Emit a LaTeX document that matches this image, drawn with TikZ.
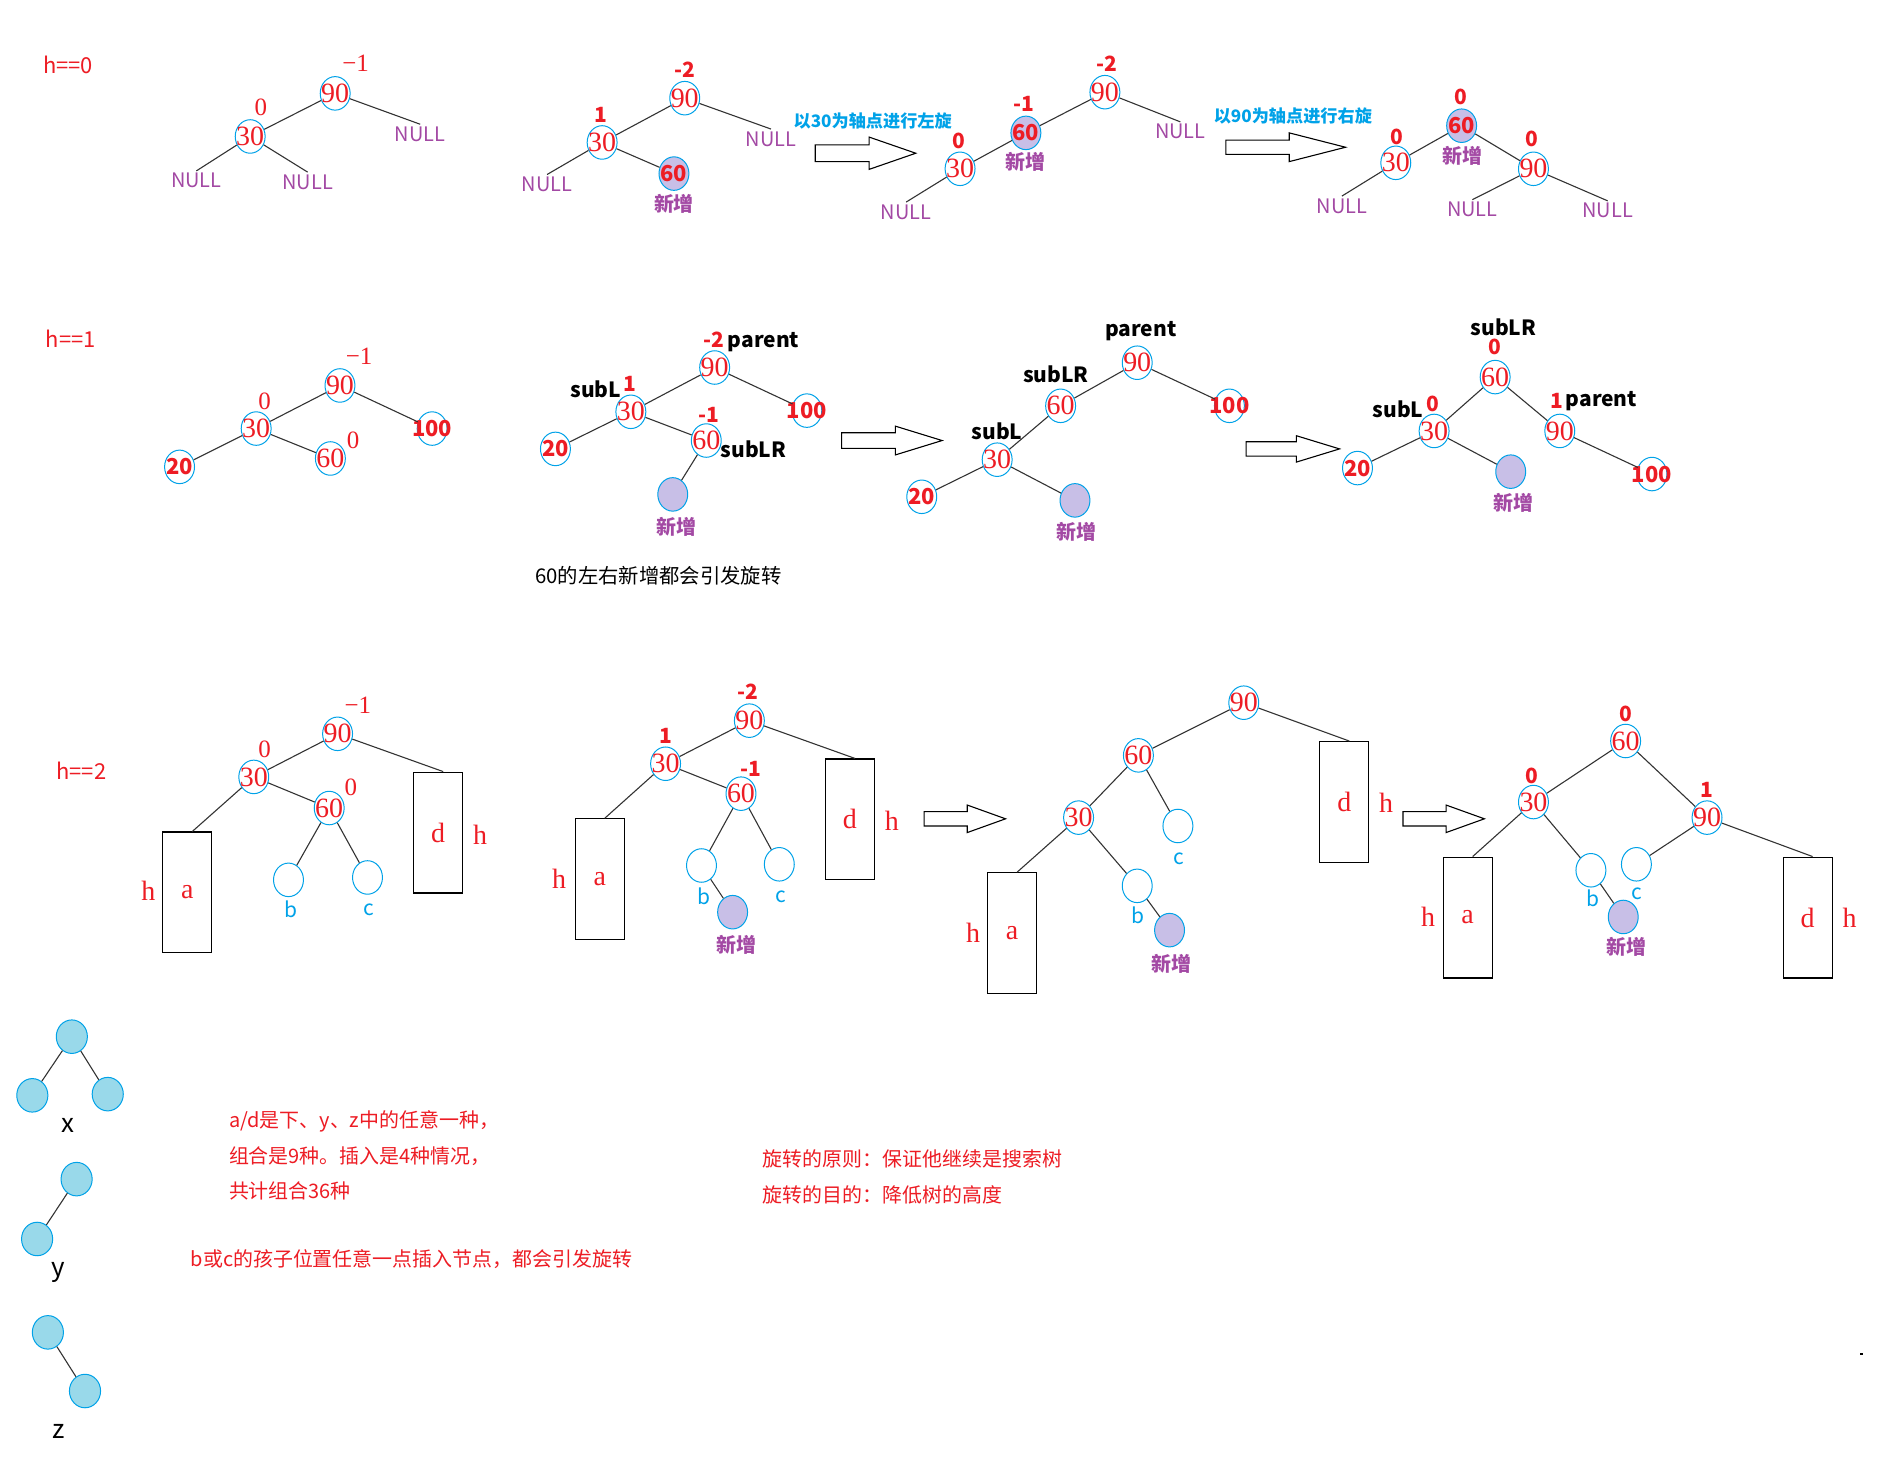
\documentclass[tikz,border=0pt]{standalone}
\usepackage{fontspec}
\setmainfont{Liberation Serif}
\newfontfamily\cjk{Noto Sans CJK SC}
\usetikzlibrary{shapes.geometric,calc}
\definecolor{PaintRed}{HTML}{ED1C24}
\definecolor{PaintCyan}{HTML}{00A2E8}
\definecolor{PaintPurple}{HTML}{A349A4}
\definecolor{PaintLilac}{HTML}{C8BFE7}
\definecolor{PaintSky}{HTML}{99D9EA}
\tikzset{
  tnode/.style={ellipse,draw=PaintCyan,line width=0.5pt,minimum width=15pt,minimum height=16.8pt,
    inner sep=0pt,text=PaintRed,font=\fontsize{14}{14}\selectfont,
    execute at begin node={\hbox to 0pt\bgroup\hss},execute at end node={\hss\egroup}},
  bnode/.style={tnode,font=\cjk\bfseries\fontsize{11}{11}\selectfont},
  newnode/.style={bnode,fill=PaintLilac},
  nulllab/.style={text=PaintPurple,font=\cjk\fontsize{10}{11}\selectfont,inner sep=1pt},
  newlab/.style={text=PaintPurple,font=\cjk\bfseries\fontsize{10}{11}\selectfont,inner sep=1pt},
  bal/.style={text=PaintRed,font=\cjk\bfseries\fontsize{10.5}{11}\selectfont,inner sep=1pt},
  balserif/.style={text=PaintRed,font=\fontsize{12.5}{13}\selectfont,inner sep=1pt},
  ptr/.style={font=\cjk\bfseries\fontsize{10.5}{11}\selectfont,inner sep=1pt},
  subtree/.style={draw,line width=0.55pt,minimum width=24.6pt,minimum height=60.6pt,
    text=PaintRed,font=\fontsize{14}{14}\selectfont},
  hlab/.style={text=PaintRed,font=\fontsize{14}{14}\selectfont,inner sep=1pt},
  bclab/.style={text=PaintCyan,font=\cjk\fontsize{10.5}{11}\selectfont,inner sep=1pt},
  rowlab/.style={text=PaintRed,font=\cjk\fontsize{11}{11}\selectfont},
  turnlab/.style={text=PaintCyan,font=\cjk\bfseries\fontsize{8.6}{10}\selectfont},
  legnode/.style={ellipse,draw=PaintCyan,fill=PaintSky,line width=0.5pt,minimum width=15.6pt,minimum height=16.8pt},
  leglab/.style={font=\cjk\fontsize{13}{13}\selectfont},
  note/.style={text=PaintRed,font=\cjk\fontsize{10}{12}\selectfont,anchor=west,inner sep=0pt},
  edge/.style={line width=0.55pt,black!80},
  blockarr/.style={draw,line width=0.55pt,fill=white}
}
\begin{document}
\begin{tikzpicture}[x=0.6pt,y=-0.6pt]
\useasboundingbox[fill=white] (0,0) rectangle (1568,1222);

% h==0
\node[rowlab] (h0) at (57,54) {h==0};
\node[tnode] (t1n90) at (280,78) {90};
\node[balserif] (t1f90) at (297,53) {−1};
\node[tnode] (t1n30) at (209,114) {30};
\node[balserif] (t1f30) at (218,90) {0};
\node[nulllab] (t1nr) at (351,112) {NULL};
\node[nulllab] (t1nl) at (164,151) {NULL};
\node[nulllab] (t1nm) at (257,152) {NULL};
\draw[edge] (t1n90) -- (t1n30);
\draw[edge] (t1n90) -- (t1nr.north);
\draw[edge] (t1n30) -- (t1nl.north);
\draw[edge] (t1n30) -- (t1nm.north);

\node[tnode] (t2n90) at (572,82) {90};
\node[bal] (t2f90) at (572,58) {-2};
\node[tnode] (t2n30) at (503,119) {30};
\node[bal] (t2f30) at (502,96) {1};
\node[nulllab] (t2nr) at (644,116) {NULL};
\node[nulllab] (t2nl) at (457,154) {NULL};
\node[newnode] (t2n60) at (563,145) {60};
\node[newlab] (t2new) at (563,170) {新增};
\draw[edge] (t2n90) -- (t2n30);
\draw[edge] (t2n90) -- (t2nr.north);
\draw[edge] (t2n30) -- (t2nl.north);
\draw[edge] (t2n30) -- (t2n60);

\node[turnlab] (turn1) at (729,101) {以30为轴点进行左旋};

\node[tnode] (t3n90) at (923,77) {90};
\node[bal] (t3f90) at (925,53) {-2};
\node[newnode] (t3n60) at (857,111) {60};
\node[bal] (t3f60) at (855,87) {-1};
\node[newlab] (t3new) at (857,135) {新增};
\node[tnode] (t3n30) at (802,141) {30};
\node[bal] (t3f30) at (801,118) {0};
\node[nulllab] (t3nl) at (757,177) {NULL};
\node[nulllab] (t3nr) at (986,110) {NULL};
\draw[edge] (t3n90) -- (t3n60);
\draw[edge] (t3n90) -- (t3nr.north);
\draw[edge] (t3n60) -- (t3n30);
\draw[edge] (t3n30) -- (t3nl.north);

\node[turnlab] (turn2) at (1080,97) {以90为轴点进行右旋};

\node[newnode] (t4n60) at (1221,105) {60};
\node[bal] (t4f60) at (1220,81) {0};
\node[newlab] (t4new) at (1222,130) {新增};
\node[tnode] (t4n30) at (1166,136) {30};
\node[bal] (t4f30) at (1167,114) {0};
\node[tnode] (t4n90) at (1281,141) {90};
\node[bal] (t4f90) at (1280,116) {0};
\node[nulllab] (t4na) at (1121,172) {NULL};
\node[nulllab] (t4nb) at (1230,175) {NULL};
\node[nulllab] (t4nc) at (1343,176) {NULL};
\draw[edge] (t4n60) -- (t4n30);
\draw[edge] (t4n60) -- (t4n90);
\draw[edge] (t4n30) -- (t4na.north);
\draw[edge] (t4n90) -- (t4nb.north);
\draw[edge] (t4n90) -- (t4nc.north);

% h==1
\node[rowlab] (h1) at (59,283) {h==1};
\node[tnode] (t5n90) at (284,322) {90};
\node[balserif] (t5f90) at (300,298) {−1};
\node[tnode] (t5n30) at (214,358) {30};
\node[balserif] (t5f30) at (221,335) {0};
\node[bnode] (t5n100) at (361,358) {100};
\node[bnode] (t5n20) at (150,390) {20};
\node[tnode] (t5n60) at (276,383) {60};
\node[balserif] (t5f60) at (295,368) {0};
\draw[edge] (t5n90) -- (t5n30);
\draw[edge] (t5n90) -- (t5n100);
\draw[edge] (t5n30) -- (t5n20);
\draw[edge] (t5n30) -- (t5n60);

\node[tnode] (t6n90) at (597,307) {90};
\node[bal,anchor=east] (t6f90) at (607,284) {-2};
\node[ptr,anchor=west] (t6parent) at (606,286) {parent};
\node[tnode] (t6n30) at (527,344) {30};
\node[ptr,anchor=east] (t6subl) at (521,325) {subL};
\node[bal,anchor=west] (t6f30) at (519,321) {1};
\node[bnode] (t6n100) at (674,343) {100};
\node[bnode] (t6n20) at (464,375) {20};
\node[tnode] (t6n60) at (590,368) {60};
\node[bal] (t6f60) at (592,347) {-1};
\node[ptr,anchor=west] (t6sublr) at (600,375) {subLR};
\node[newnode] (t6new) at (562,413) {};
\node[newlab] (t6newlab) at (565,440) {新增};
\draw[edge] (t6n90) -- (t6n30);
\draw[edge] (t6n90) -- (t6n100);
\draw[edge] (t6n30) -- (t6n20);
\draw[edge] (t6n30) -- (t6n60);
\draw[edge] (t6n60) -- (t6new);
\node[font=\cjk\fontsize{10.2}{12}\selectfont] (t6note) at (550,481) {60的左右新增都会引发旋转};

\node[ptr] (t7parent) at (953,277) {parent};
\node[tnode] (t7n90) at (950,303) {90};
\node[ptr] (t7sublr) at (882,313) {subLR};
\node[tnode] (t7n60) at (886,339) {60};
\node[bnode] (t7n100) at (1027,339) {100};
\node[ptr] (t7subl) at (833,360) {subL};
\node[tnode] (t7n30) at (833,384) {30};
\node[bnode] (t7n20) at (770,415) {20};
\node[newnode] (t7new) at (898,418) {};
\node[newlab] (t7newlab) at (899,444) {新增};
\draw[edge] (t7n90) -- (t7n60);
\draw[edge] (t7n90) -- (t7n100);
\draw[edge] (t7n60) -- (t7n30);
\draw[edge] (t7n30) -- (t7n20);
\draw[edge] (t7n30) -- (t7new);

\node[ptr] (t8sublr) at (1256,273) {subLR};
\node[bal] (t8f60) at (1249,290) {0};
\node[tnode] (t8n60) at (1249,315) {60};
\node[ptr,anchor=east] (t8subl) at (1191,342) {subL};
\node[bal,anchor=west] (t8f30) at (1190,337) {0};
\node[tnode] (t8n30) at (1198,360) {30};
\node[bal,anchor=east] (t8f90) at (1308,335) {1};
\node[ptr,anchor=west] (t8parent) at (1306,335) {parent};
\node[tnode] (t8n90) at (1303,360) {90};
\node[bnode] (t8n20) at (1134,391) {20};
\node[newnode] (t8new) at (1262,394) {};
\node[newlab] (t8newlab) at (1264,420) {新增};
\node[bnode] (t8n100) at (1380,396) {100};
\draw[edge] (t8n60) -- (t8n30);
\draw[edge] (t8n60) -- (t8n90);
\draw[edge] (t8n30) -- (t8n20);
\draw[edge] (t8n30) -- (t8new);
\draw[edge] (t8n90) -- (t8n100);

% h==2
\node[rowlab] (h2) at (68,644) {h==2};
\node[tnode] (t9n90) at (282,613) {90};
\node[balserif] (t9f90) at (299,589) {−1};
\node[tnode] (t9n30) at (212,649) {30};
\node[balserif] (t9f30) at (221,626) {0};
\node[tnode] (t9n60) at (275,675) {60};
\node[balserif] (t9f60) at (293,658) {0};
\node[subtree] (t9a) at (156.5,745.5) {a};
\node[hlab] (t9ha) at (124,744) {h};
\node[subtree] (t9d) at (366,695.5) {d};
\node[hlab] (t9hd) at (401,697) {h};
\node[tnode] (t9b) at (241,735) {};
\node[tnode] (t9c) at (307,733) {};
\node[bclab] (t9bl) at (243,760) {b};
\node[bclab] (t9cl) at (308,760) {c};
\draw[edge] (t9n90) -- (t9n30);
\draw[edge] (t9n90) -- ($(t9d.north west)!0.6!(t9d.north east)$);
\draw[edge] (t9n30) -- ($(t9a.north west)!0.6!(t9a.north east)$);
\draw[edge] (t9n30) -- (t9n60);
\draw[edge] (t9n60) -- (t9b);
\draw[edge] (t9n60) -- (t9c);

\node[tnode] (t10n90) at (626,602) {90};
\node[bal] (t10f90) at (625,578) {-2};
\node[tnode] (t10n30) at (556,638) {30};
\node[bal] (t10f30) at (556,615) {1};
\node[tnode] (t10n60) at (619,663) {60};
\node[bal] (t10f60) at (627,642) {-1};
\node[subtree] (t10a) at (501,734.5) {a};
\node[hlab] (t10ha) at (467,734) {h};
\node[subtree] (t10d) at (710,684.5) {d};
\node[hlab] (t10hd) at (745,686) {h};
\node[tnode] (t10b) at (586,723) {};
\node[tnode] (t10c) at (651,722) {};
\node[bclab] (t10bl) at (588,749) {b};
\node[bclab] (t10cl) at (652,749) {c};
\node[newnode] (t10new) at (612,762) {};
\node[newlab] (t10newlab) at (615,789) {新增};
\draw[edge] (t10n90) -- (t10n30);
\draw[edge] (t10n90) -- ($(t10d.north west)!0.6!(t10d.north east)$);
\draw[edge] (t10n30) -- ($(t10a.north west)!0.6!(t10a.north east)$);
\draw[edge] (t10n30) -- (t10n60);
\draw[edge] (t10n60) -- (t10b);
\draw[edge] (t10n60) -- (t10c);
\draw[edge] (t10b) -- (t10new);

\node[tnode] (t11n90) at (1039,587) {90};
\node[tnode] (t11n60) at (951,631) {60};
\node[tnode] (t11n30) at (901,683) {30};
\node[tnode] (t11c) at (984,690) {};
\node[bclab] (t11cl) at (985,717) {c};
\node[tnode] (t11b) at (950,740) {};
\node[bclab] (t11bl) at (951,765) {b};
\node[newnode] (t11new) at (977,777) {};
\node[newlab] (t11newlab) at (979,805) {新增};
\node[subtree] (t11a) at (845.5,779.5) {a};
\node[hlab] (t11ha) at (813,779) {h};
\node[subtree] (t11d) at (1123,670) {d};
\node[hlab] (t11hd) at (1158,671) {h};
\draw[edge] (t11n90) -- (t11n60);
\draw[edge] (t11n90) -- ($(t11d.north west)!0.6!(t11d.north east)$);
\draw[edge] (t11n60) -- (t11n30);
\draw[edge] (t11n60) -- (t11c);
\draw[edge] (t11n30) -- ($(t11a.north west)!0.6!(t11a.north east)$);
\draw[edge] (t11n30) -- (t11b);
\draw[edge] (t11b) -- (t11new);

\node[tnode] (t12n60) at (1358,619) {60};
\node[bal] (t12f60) at (1358,596) {0};
\node[tnode] (t12n30) at (1281,670) {30};
\node[bal] (t12f30) at (1280,648) {0};
\node[tnode] (t12n90) at (1426,683) {90};
\node[bal] (t12f90) at (1426,660) {1};
\node[tnode] (t12b) at (1329,727) {};
\node[tnode] (t12c) at (1367,722) {};
\node[bclab] (t12bl) at (1331,750) {b};
\node[bclab] (t12cl) at (1367,747) {c};
\node[newnode] (t12new) at (1356,766) {};
\node[newlab] (t12newlab) at (1359,791) {新增};
\node[subtree] (t12a) at (1226,766.5) {a};
\node[hlab] (t12ha) at (1193,766) {h};
\node[subtree] (t12d) at (1510,766.5) {d};
\node[hlab] (t12hd) at (1545,767) {h};
\draw[edge] (t12n60) -- (t12n30);
\draw[edge] (t12n60) -- (t12n90);
\draw[edge] (t12n30) -- ($(t12a.north west)!0.6!(t12a.north east)$);
\draw[edge] (t12n30) -- (t12b);
\draw[edge] (t12n90) -- (t12c);
\draw[edge] (t12n90) -- ($(t12d.north west)!0.6!(t12d.north east)$);
\draw[edge] (t12b) -- (t12new);

% hollow rotation arrows
\foreach \ax/\ay/\al/\ab/\ah/\aw in {681/128/84/45/13.5/7, 1024/123/100/53/12/6,
    703/368/84/45/12/6.5, 1041/375/78/42/11/6, 772/684/68/36/11.5/6, 1172/684/68/36/11.5/6}
  \draw[blockarr] (\ax,\ay-\aw) -- (\ax+\ab,\ay-\aw) -- (\ax+\ab,\ay-\ah) -- (\ax+\al,\ay)
    -- (\ax+\ab,\ay+\ah) -- (\ax+\ab,\ay+\aw) -- (\ax,\ay+\aw) -- cycle;

% subtree shapes x, y, z
\node[legnode] (xt) at (60,866) {};
\node[legnode] (xl) at (27,915) {};
\node[legnode] (xr) at (90,914) {};
\node[leglab] (xlab) at (57,940) {x};
\draw[edge] (xt) -- (xl);
\draw[edge] (xt) -- (xr);
\node[legnode] (yt) at (64,985) {};
\node[legnode] (yl) at (31,1035) {};
\node[leglab] (ylab) at (49,1063) {y};
\draw[edge] (yt) -- (yl);
\node[legnode] (zt) at (40,1113) {};
\node[legnode] (zr) at (71,1162) {};
\node[leglab] (zlab) at (49,1196) {z};
\draw[edge] (zt) -- (zr);

\node[note] (note1) at (191,937) {a/d是下、y、z中的任意一种，};
\node[note] (note2) at (191,966) {组合是9种。插入是4种情况，};
\node[note] (note3) at (191,995) {共计组合36种};
\node[note] (note4) at (159,1052) {b或c的孩子位置任意一点插入节点，都会引发旋转};
\node[note] (note5) at (637,968) {旋转的原则：保证他继续是搜索树};
\node[note] (note6) at (637,998) {旋转的目的：降低树的高度};
\fill (1554,1130.5) rectangle (1556,1131.5);
\end{tikzpicture}
\end{document}
